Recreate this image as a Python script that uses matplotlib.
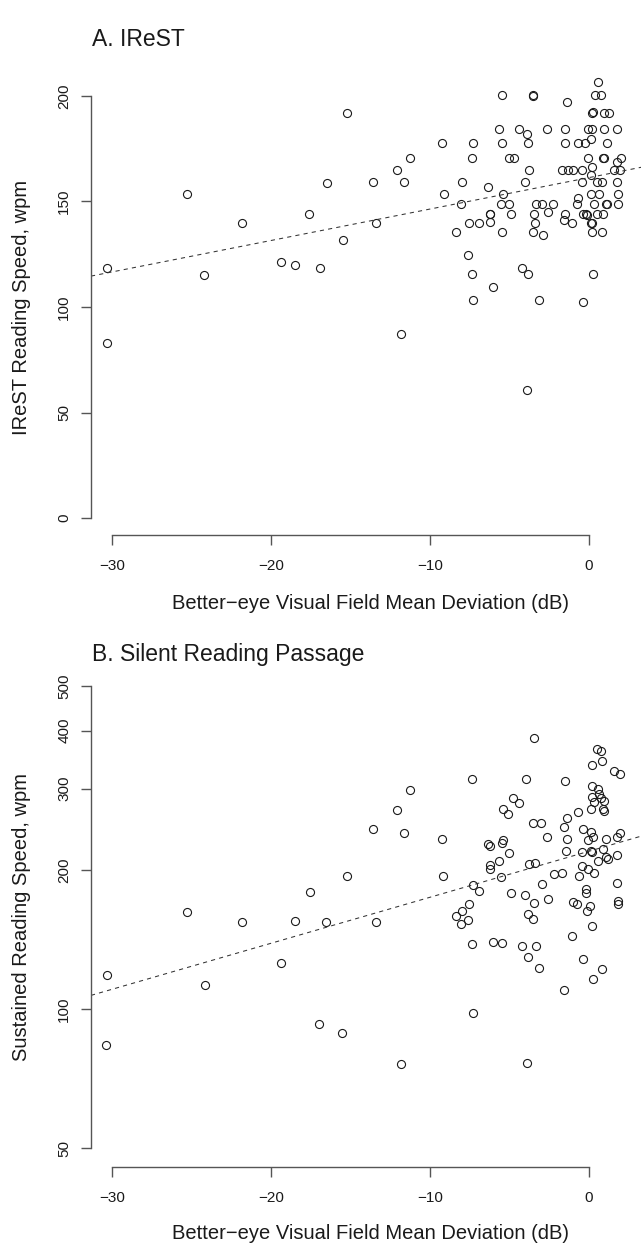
import matplotlib
matplotlib.use("Agg")
import matplotlib.pyplot as plt
import numpy as np

plt.rcParams["font.family"] = ["Liberation Sans", "DejaVu Sans"]

# Panel A: IReST reading speed (wpm) vs better-eye MD (dB)
md_a = [
    -15.2, -16.5, -17.6, -25.3, -21.8, -15.5, -30.3, -24.2, -19.4, -18.5, -16.9, -30.3,
    0.55, -5.45, -3.54, -3.50, 0.38, 0.74, -1.38, 0.21, 0.25, 0.96, 1.26,
    -5.64, -4.38, -2.64, -1.51, -0.08, 0.21, 0.92, 1.74, -3.92, 0.13,
    -9.25, -7.28, -5.49, -3.84, -1.49, -0.69, -0.23, 1.11,
    -11.26, -7.36, -5.05, -4.74, -0.04, 0.90, 0.94, 1.99, 1.74,
    -12.1, -3.79, -1.70, -1.34, -0.99, -0.46, 0.17, 1.57, 1.95, 0.11,
    -13.6, -11.65, -7.97, -4.04, -0.42, 0.48, 0.84, 1.74, -6.35,
    -9.14, -5.41, 0.11, 0.65, 1.84, -0.67,
    -8.07, -5.53, -5.01, -3.33, -2.98, -2.25, -0.77, 0.33, 1.07, 1.10, 1.81,
    -6.23, -6.20, -4.89, -3.48, -2.60, -1.51, -0.36, -0.19, -0.11, 0.52, 0.86,
    0.11, 0.21,
    -13.4, -7.55, -6.94, -6.21, -3.42, -1.59, -1.07,
    -8.37, -5.45, -3.54, -2.91, 0.21, 0.80,
    -7.59, -7.34, -4.21, -3.84, 0.23, -6.01, -7.30, -3.14, -0.38, -11.8, -3.88,
]
wpm_a = [
    192.0, 158.8, 144.0, 153.6, 139.6, 131.7, 118.3, 115.3, 121.3, 119.8, 118.3, 83.0,
    206.7, 200.2, 200.2, 200.0, 200.2, 200.2, 197.2, 192.0, 192.2, 192.0, 192.0,
    184.4, 184.4, 184.4, 184.4, 184.4, 184.4, 184.4, 184.4, 182.0, 179.7,
    177.5, 177.5, 177.5, 177.5, 177.5, 177.5, 177.5, 177.5,
    170.7, 170.7, 170.7, 170.7, 170.7, 170.7, 170.7, 170.7, 168.6,
    164.7, 164.7, 164.7, 164.7, 164.7, 164.7, 166.3, 164.7, 164.7, 162.5,
    159.0, 159.0, 159.0, 159.0, 159.0, 159.0, 159.0, 159.0, 156.8,
    153.6, 153.6, 153.6, 153.6, 153.6, 151.7,
    148.6, 148.6, 148.6, 148.6, 148.6, 148.6, 148.6, 148.6, 148.6, 148.6, 148.6,
    144.2, 144.2, 143.9, 144.1, 145.0, 144.1, 144.1, 144.1, 143.5, 144.1, 144.1,
    139.8, 139.8,
    139.6, 139.6, 139.6, 140.4, 139.6, 141.0, 139.6,
    135.6, 135.6, 135.6, 134.0, 135.6, 135.6,
    124.7, 115.4, 118.6, 115.4, 115.4, 109.6, 103.1, 103.4, 102.2, 87.0, 60.8,
]

# Panel B: sustained silent reading speed (wpm, log axis)
md_b = [
    -25.26, -21.84, -18.49, -17.57, -16.54, -15.2, -19.39,
    -3.48, 0.52, 0.77, 0.84, 0.21, 1.57, 1.95,
    -7.36, -3.94, -1.51, -11.26, 0.17,
    0.55, 0.65, 0.21, 0.74, 0.33, 0.94, 0.90, 0.95, 0.11,
    -12.1, -4.76, -4.38, -5.41, -5.08, -0.69, -1.38, -1.55,
    -13.6, -11.65, -9.25, -3.54, -3.02, -0.36,
    0.11, 0.23, -0.08, 1.97, 1.74, 1.09, -2.64, -1.36,
    -6.35, -6.25, -5.43, -5.49, -5.01, 0.90, -1.45,
    -0.42, 0.11, 0.21, 1.07, 1.21, 1.78, 0.55, -5.64,
    -3.79, -3.40, -6.23, -6.23, -0.42, -0.06,
    -9.16, -5.52, -7.28, -6.94, -2.22, -1.68, -0.65, 0.33,
    1.74, -2.94, -4.89, -4.04, -3.46, -2.60, -0.21, -0.21,
    -0.99, -0.77, 0.06, -0.11, 1.80, 1.84, -7.57,
    -7.97, -8.36, -7.59, -8.07, -3.84, -3.50, -13.4,
    0.19, -1.07, -7.34, -6.02, -5.45, -4.23, -3.35,
    -3.84, -0.38, -3.14, 0.84, 0.23, -1.57, -7.30,
    -24.17, -30.38, -17.0, -30.3, -15.53, -11.8, -3.88,
]
wpm_b = [
    162.3, 154.4, 154.9, 179.3, 154.1, 193.7, 125.9,
    386.1, 365.0, 362.4, 344.9, 337.6, 326.6, 322.3,
    315.3, 314.3, 311.3, 298.0, 304.5,
    299.2, 292.2, 288.3, 285.6, 280.4, 281.3, 270.5, 268.5, 270.4,
    269.5, 285.5, 279.4, 270.8, 264.6, 266.3, 259.0, 248.3,
    245.6, 240.7, 233.3, 252.6, 252.6, 245.2,
    241.1, 235.2, 231.7, 240.5, 235.2, 233.6, 235.2, 233.6,
    227.9, 224.9, 232.5, 229.1, 217.2, 222.3, 219.3,
    218.9, 219.3, 218.3, 213.3, 211.6, 215.0, 209.4, 209.4,
    206.3, 207.0, 204.6, 201.3, 204.0, 201.3,
    193.7, 193.1, 185.2, 179.8, 196.3, 197.0, 193.7, 197.0,
    187.4, 186.8, 178.3, 176.2, 169.7, 173.4, 181.9, 178.3,
    170.2, 168.9, 166.9, 162.8, 171.7, 168.9, 168.9,
    163.3, 158.8, 155.9, 152.8, 160.9, 156.7, 154.1,
    151.0, 143.7, 138.4, 139.8, 139.3, 136.7, 136.7,
    129.9, 128.2, 123.0, 122.2, 116.3, 110.3, 98.2,
    112.7, 83.6, 93.0, 118.8, 88.7, 76.3, 76.4,
]

# fitted lines
fit_a = (161.3, 1.49)       # wpm = a + b*MD
fit_b = (2.3416, 0.00995)   # log10(wpm) = a + b*MD

x_ticks = [-30, -20, -10, 0]
y_ticks_a = [0, 50, 100, 150, 200]
y_ticks_b = [50, 100, 200, 300, 400, 500]
x_title = "Better\u2212eye Visual Field Mean Deviation (dB)"

W, H = 641, 1243
fig = plt.figure(figsize=(W / 100, H / 100), dpi=100)

axis_col = "#555555"
text_col = "#1a1a1a"
xlim = (-31.32, 3.77)


def style_axes(ax, yticks, ybounds):
    for s in ["top", "right"]:
        ax.spines[s].set_visible(False)
    for s in ["left", "bottom"]:
        ax.spines[s].set_color(axis_col)
        ax.spines[s].set_linewidth(1.0)
    ax.spines["left"].set_bounds(*ybounds)
    ax.spines["bottom"].set_bounds(x_ticks[0], x_ticks[-1])
    ax.set_xticks(x_ticks)
    ax.set_yticks(yticks)
    ax.set_yticklabels([str(t) for t in yticks], rotation=90, va="center")
    ax.minorticks_off()
    ax.tick_params(length=7.2, width=1.0, color=axis_col, labelsize=11,
                   labelcolor=text_col)
    ax.tick_params(axis="y", pad=7)
    ax.tick_params(axis="x", pad=10)
    ax.set_xlim(*xlim)


def points(ax, x, y):
    ax.plot(x, y, "o", ms=5.8, mfc="none", mec="#1a1a1a", mew=0.8,
            clip_on=False)


# Panel A
ax1 = fig.add_axes([91 / W, 1 - 535 / H, 558 / W, 456 / H])
points(ax1, md_a, wpm_a)
xs = np.array(xlim)
ax1.plot(xs, fit_a[0] + fit_a[1] * xs, color="#333333", lw=0.75,
         dashes=(4, 4))
ax1.set_ylim(-8, 208)
style_axes(ax1, y_ticks_a, (0, 200))
ax1.set_ylabel("IReST Reading Speed, wpm", fontsize=14.5, color=text_col)
ax1.set_xlabel(x_title, fontsize=14.5, color=text_col)
ax1.yaxis.set_label_coords(-0.107, 0.5)
ax1.xaxis.set_label_coords(0.5, -0.129)

# Panel B
ax2 = fig.add_axes([91 / W, 1 - 1167 / H, 558 / W, 499.5 / H])
ax2.set_yscale("log")
points(ax2, md_b, wpm_b)
ax2.plot(xs, 10 ** (fit_b[0] + fit_b[1] * xs), color="#333333", lw=0.75,
         dashes=(4, 4))
ax2.set_ylim(45.6, 548)
style_axes(ax2, y_ticks_b, (50, 500))
ax2.set_ylabel("Sustained Reading Speed, wpm", fontsize=14.5, color=text_col)
ax2.set_xlabel(x_title, fontsize=14.5, color=text_col)
ax2.yaxis.set_label_coords(-0.107, 0.5)
ax2.xaxis.set_label_coords(0.5, -0.114)

fig.text(92 / W, 1 - 40 / H, "A. IReST", fontsize=16.5, color=text_col,
         ha="left", va="center")
fig.text(92 / W, 1 - 655 / H, "B. Silent Reading Passage", fontsize=16.5,
         color=text_col, ha="left", va="center")

fig.savefig("out.png", dpi=100)
